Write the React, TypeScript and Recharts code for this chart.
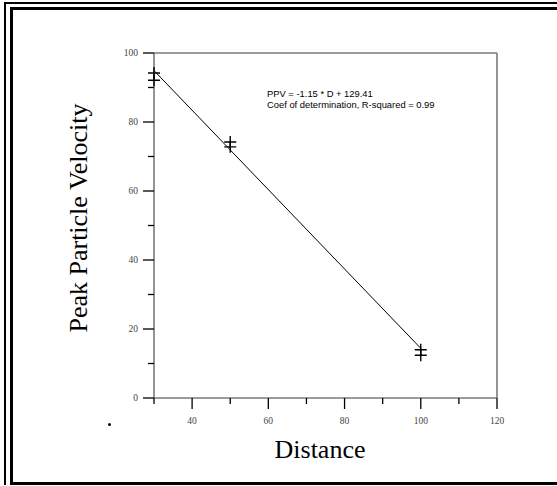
import React from 'react';
import { ComposedChart, Scatter, XAxis, YAxis, ReferenceLine, Customized } from 'recharts';

const xTicks = [30, 40, 50, 60, 70, 80, 90, 100, 110, 120];
const xMajor = [40, 60, 80, 100, 120];
const yTicks = [0, 10, 20, 30, 40, 50, 60, 70, 80, 90, 100];
const yMajor = [0, 20, 40, 60, 80, 100];

const observations = [
  { x: 30, y: 94.2 },
  { x: 30, y: 92.1 },
  { x: 50, y: 74.2 },
  { x: 50, y: 72.8 },
  { x: 100, y: 14.0 },
  { x: 100, y: 12.4 },
];

const fitLine = [
  { x: 30, y: 94.9 },
  { x: 100, y: 14.4 },
];

const equationLines = ['PPV = -1.15 * D + 129.41', 'Coef of determination, R-squared = 0.99'];

const AXIS_GRAY = '#7a7a7a';
const SERIF = '"Liberation Serif", "Times New Roman", serif';
const SANS = '"Liberation Sans", Arial, sans-serif';

const XTick = (props: any) => {
  const { x, y, payload } = props;
  const major = xMajor.includes(payload.value);
  return (
    <g>
      <line x1={x} x2={x} y1={y} y2={y + (major ? 11 : 6)} stroke="#000" strokeWidth={1.3} />
      {major && (
        <text x={x} y={y + 26} textAnchor="middle" fontFamily={SERIF} fontSize={9.5} fill="#444">
          {payload.value}
        </text>
      )}
    </g>
  );
};

const YTick = (props: any) => {
  const { x, y, payload } = props;
  const major = yMajor.includes(payload.value);
  return (
    <g>
      <line x1={x - (major ? 11 : 6)} x2={x} y1={y} y2={y} stroke="#000" strokeWidth={1.3} />
      {major && (
        <text x={x - 16} y={y + 3} textAnchor="end" fontFamily={SERIF} fontSize={9.5} fill="#444">
          {payload.value}
        </text>
      )}
    </g>
  );
};

const Cross = (props: any) => {
  const { cx, cy } = props;
  if (cx == null || cy == null) return null;
  return (
    <path d={`M${cx - 6},${cy}h12M${cx},${cy - 6}v12`} stroke="#000" strokeWidth={1.4} fill="none" />
  );
};

const NoShape = () => null;

const Titles = () => (
  <g>
    <text x={320} y={458} textAnchor="middle" fontFamily={SERIF} fontSize={26} fill="#000">
      Distance
    </text>
    <text
      x={0}
      y={0}
      transform="translate(87,218) rotate(-90)"
      textAnchor="middle"
      fontFamily={SERIF}
      fontSize={26}
      fill="#000"
    >
      Peak Particle Velocity
    </text>
    {equationLines.map((t, i) => (
      <text key={i} x={267} y={97 + i * 10.5} fontFamily={SANS} fontSize={9.4} fill="#000">
        {t}
      </text>
    ))}
  </g>
);

const line = (style: React.CSSProperties) => (
  <div style={{ position: 'absolute', background: '#000', ...style }} />
);

export default function App() {
  return (
    <div style={{ position: 'absolute', left: 0, top: 0, width: 557, height: 486, background: '#fff' }}>
      <ComposedChart
        width={557}
        height={486}
        margin={{ top: 53, right: 60, bottom: 58, left: 94 }}
      >
        <XAxis
          type="number"
          dataKey="x"
          domain={[30, 120]}
          ticks={xTicks}
          interval={0}
          height={30}
          tickSize={0}
          tickMargin={0}
          tickLine={false}
          axisLine={{ stroke: AXIS_GRAY, strokeWidth: 1.6 }}
          tick={<XTick />}
        />
        <YAxis
          type="number"
          dataKey="y"
          domain={[0, 100]}
          ticks={yTicks}
          interval={0}
          width={60}
          tickSize={0}
          tickMargin={0}
          tickLine={false}
          axisLine={{ stroke: AXIS_GRAY, strokeWidth: 1.6 }}
          tick={<YTick />}
        />
        <ReferenceLine y={100} stroke={AXIS_GRAY} strokeWidth={1.6} />
        <ReferenceLine x={120} stroke={AXIS_GRAY} strokeWidth={1.6} />
        <Scatter
          data={fitLine}
          line={{ stroke: '#000', strokeWidth: 1 }}
          lineType="joint"
          shape={<NoShape />}
          isAnimationActive={false}
        />
        <Scatter data={observations} shape={<Cross />} isAnimationActive={false} />
        <Customized component={Titles} />
      </ComposedChart>
      {line({ left: 4, top: 2, width: 553, height: 2 })}
      {line({ left: 4, top: 2, width: 2, height: 483 })}
      {line({ left: 10, top: 7, width: 547, height: 3 })}
      {line({ left: 10, top: 7, width: 3, height: 478 })}
      {line({ left: 10, top: 482, width: 547, height: 3 })}
      {line({ left: 108, top: 423, width: 3, height: 3, borderRadius: 2 })}
    </div>
  );
}
